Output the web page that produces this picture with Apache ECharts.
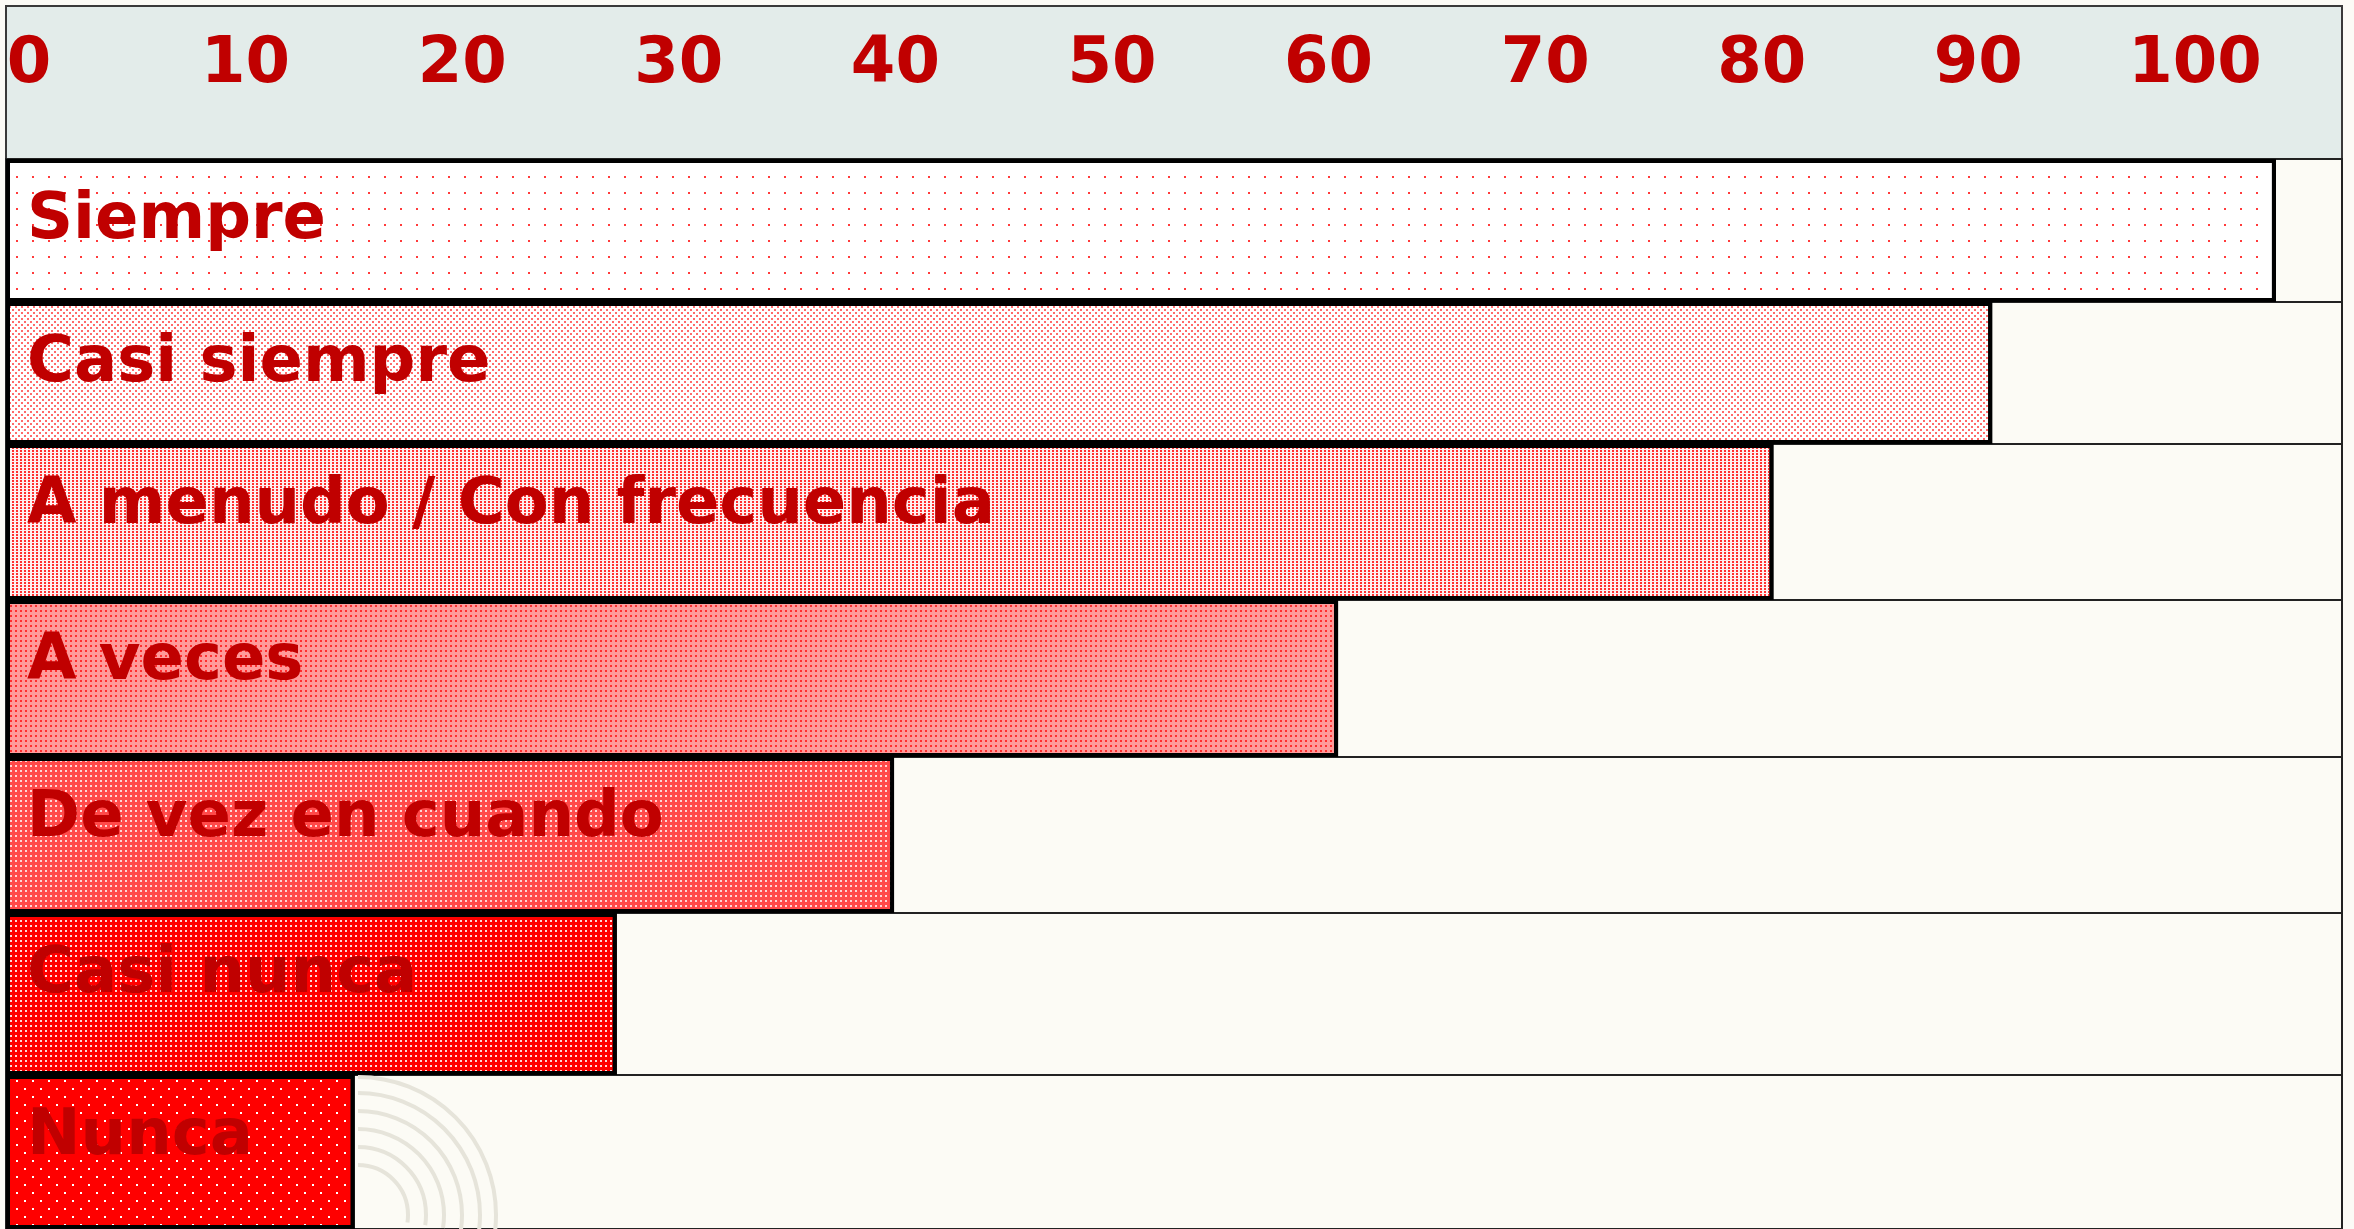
<!DOCTYPE html>
<html>
<head>
<meta charset="utf-8">
<script src="https://cdn.jsdelivr.net/npm/echarts@6/dist/echarts.min.js"></script>
<style>
  html, body { margin: 0; padding: 0; background: #fcfbf6; }
  #chart { width: 2354px; height: 1229px; }
</style>
</head>
<body>
<div id="chart"></div>
<script>
// ---- data ----
const categories = ['Siempre', 'Casi siempre', 'A menudo / Con frecuencia', 'A veces', 'De vez en cuando', 'Casi nunca', 'Nunca'];
const values = [104.8, 91.7, 81.6, 61.5, 41.0, 28.2, 16.1];
const tickLabels = ['0', '10', '20', '30', '40', '50', '60', '70', '80', '90', '100'];

// ---- layout (row edges in px, as in the original slide) ----
const rowEdges = [159, 302, 444, 600, 757, 913, 1075, 1245];
const axisMax = 107.85;

// ---- styles (fill + dotted pattern per row) ----
const fills = ['#ffffff', '#ffffff', '#fff0f0', '#ff9a9a', '#ff4a4a', '#ff0000', '#ff0000'];
const decals = [
  { symbol: 'rect', color: '#ff3b3b', dashArrayX: [2, 14], dashArrayY: [2, 14] },
  { symbol: 'rect', color: '#ff6a6a', dashArrayX: [[2, 4], [0, 3, 2, 1]], dashArrayY: [2, 1] },
  { symbol: 'rect', color: '#ff3030', dashArrayX: [2, 2], dashArrayY: [2, 1] },
  { symbol: 'rect', color: '#ff2f2f', dashArrayX: [2, 3], dashArrayY: [2, 3] },
  { symbol: 'rect', color: '#ffd6d6', dashArrayX: [2, 3], dashArrayY: [2, 3] },
  { symbol: 'rect', color: 'rgba(255,255,255,0.85)', dashArrayX: [2, 3], dashArrayY: [2, 3] },
  { symbol: 'rect', color: '#ffffff', dashArrayX: [[2, 14], [0, 8, 2, 6]], dashArrayY: [2, 6] }
];

const textFont = 'DejaVu Sans';
const chart = echarts.init(document.getElementById('chart'), null, { renderer: 'canvas' });

const grids = [], xAxes = [], yAxes = [], series = [];
categories.forEach((cat, i) => {
  grids.push({ left: 6, right: 12, top: rowEdges[i], height: rowEdges[i + 1] - rowEdges[i], containLabel: false });
  xAxes.push({
    type: 'value',
    gridIndex: i,
    position: 'top',
    min: 0,
    max: axisMax,
    interval: 10,
    axisLine: { show: false },
    axisTick: { show: false },
    splitLine: { show: false },
    axisLabel: i === 0 ? {
      show: true,
      showMaxLabel: false,
      color: '#c00000',
      fontSize: 64,
      fontWeight: 'bold',
      fontFamily: textFont,
      margin: 62,
      padding: [0, 0, 0, 46],
      formatter: function (v) {
        const k = Math.round(v / 10);
        return (Math.abs(v - k * 10) < 1e-6 && k < tickLabels.length) ? tickLabels[k] : '';
      }
    } : { show: false }
  });
  yAxes.push({ type: 'category', gridIndex: i, data: [cat], show: false });
  series.push({
    type: 'bar',
    name: cat,
    xAxisIndex: i,
    yAxisIndex: i,
    barCategoryGap: '0%',
    showBackground: true,
    backgroundStyle: { color: '#fcfbf5', borderColor: '#222222', borderWidth: 2 },
    data: [{
      value: values[i],
      itemStyle: {
        color: fills[i],
        borderColor: '#000000',
        borderWidth: 4,
        decal: Object.assign({ symbolSize: 1 }, decals[i])
      }
    }],
    label: {
      show: true,
      position: 'insideTopLeft',
      distance: 21,
      offset: [0, 9],
      formatter: '{b}',
      color: '#c00000',
      fontSize: 64,
      fontWeight: 'bold',
      fontFamily: textFont
    }
  });
});

// faint decorative swirl strokes (slide background ornament) beside the last bar
const swirl = [];
[50, 68, 86, 104, 122, 138].forEach(r => {
  swirl.push({
    type: 'arc',
    z: 100,
    shape: { cx: 358, cy: 1215, r: r, startAngle: -Math.PI / 2, endAngle: 0.15 },
    style: { stroke: '#e6e4da', lineWidth: 4, fill: null }
  });
});

chart.setOption({
  backgroundColor: '#fcfbf6',
  animation: false,
  graphic: [{
    type: 'rect',
    z: -10,
    shape: { x: 6, y: 6, width: 2336, height: rowEdges[0] - 6 },
    style: { fill: '#e3ecea', stroke: '#3a3a3a', lineWidth: 2 }
  }].concat(swirl),
  grid: grids,
  xAxis: xAxes,
  yAxis: yAxes,
  series: series
});
</script>
</body>
</html>
